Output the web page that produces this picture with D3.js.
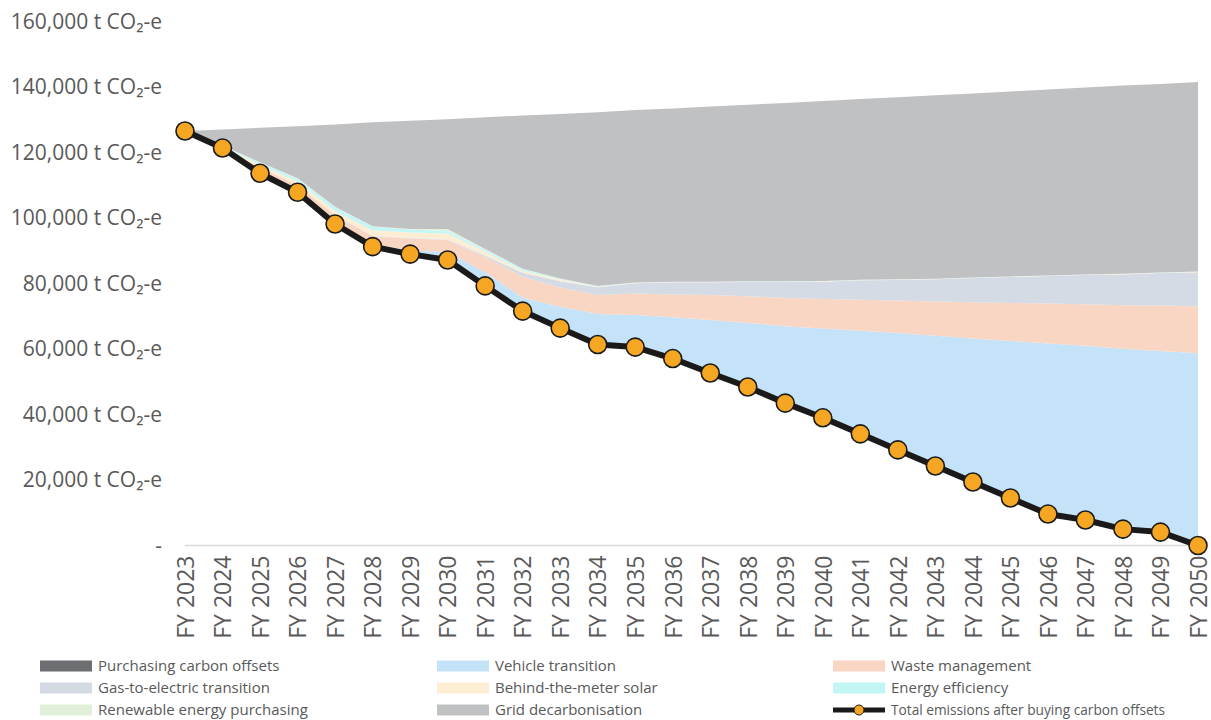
<!DOCTYPE html>
<html>
<head>
<meta charset="utf-8">
<script src="https://cdn.jsdelivr.net/npm/d3@7"></script>
<style>
  body { margin: 0; background: #ffffff; }
  svg { display: block; }
  text { font-family: "Open Sans", "DejaVu Sans", sans-serif; fill: #595959; }
</style>
</head>
<body>
<svg id="chart" width="1211" height="720"></svg>
<script>
// Financial years on the category axis
const years = ["FY 2023","FY 2024","FY 2025","FY 2026","FY 2027","FY 2028","FY 2029","FY 2030",
  "FY 2031","FY 2032","FY 2033","FY 2034","FY 2035","FY 2036","FY 2037","FY 2038","FY 2039",
  "FY 2040","FY 2041","FY 2042","FY 2043","FY 2044","FY 2045","FY 2046","FY 2047","FY 2048",
  "FY 2049","FY 2050"];

// Total emissions after buying carbon offsets (t CO2-e)
const totalAfterOffsets = [126600,121400,113700,107900,98200,91300,89000,87200,79300,71600,66400,
  61400,60600,57100,52700,48400,43500,39000,34100,29200,24300,19400,14500,9600,7800,5000,4100,0];

// Abatement wedges stacked above the remaining emissions (t CO2-e)
const carbonOffsets = [0,0,0,0,0,0,0,0,0,0,0,0,0,0,0,0,0,0,0,0,0,0,0,0,0,0,0,0];
const vehicleTransition = [0,0,0,0,0,700,1000,2500,4200,4100,6500,9300,9800,12600,16200,19600,
  23500,27300,31500,35700,39800,43800,48000,52100,53200,55100,55300,58700];
const wasteManagement = [0,150,1800,2200,2700,2500,3800,3600,4600,6400,5900,5800,6600,7000,7600,
  8100,8600,9000,9500,9900,10400,11100,11600,12200,12700,13300,13900,14400];
const gasToElectric = [0,0,0,0,0,100,100,200,500,1200,1900,2400,3100,3700,3900,4400,4900,5300,
  5900,6300,6800,7400,7900,8400,8900,9400,9900,10400];
const behindMeterSolar = [0,150,800,1100,1300,1700,1700,1800,1100,600,500,120,100,100,100,100,100,
  100,100,100,100,100,100,100,100,100,100,100];
const energyEfficiency = [0,250,600,800,1100,1100,900,800,600,450,200,150,60,60,60,60,60,60,60,
  60,60,60,60,60,60,60,60,60];
const renewablePurchasing = [0,150,200,200,200,150,150,600,300,200,120,100,40,40,40,40,40,40,40,
  40,40,40,40,40,40,40,40,40];
const gridDecarbonisation = [0,5000,10500,15900,25100,31700,33100,33500,40200,46800,50300,53100,
  52700,52900,53500,53900,54500,55000,55200,55600,56000,56200,56500,56800,57100,57500,57600,57900];

// Value axis ticks
const yTicks = [0,20000,40000,60000,80000,100000,120000,140000,160000];

// Series shown in the legend (3 columns x 3 rows)
const legendItems = [
  { key: "offsets",   label: "Purchasing carbon offsets",   color: "#6D6E71" },
  { key: "vehicle",   label: "Vehicle transition",          color: "#C5E3F8" },
  { key: "waste",     label: "Waste management",            color: "#F9D5C4" },
  { key: "gas",       label: "Gas-to-electric transition",  color: "#D4DBE5" },
  { key: "solar",     label: "Behind-the-meter solar",      color: "#FDEDD4" },
  { key: "ee",        label: "Energy efficiency",           color: "#C3F7F7" },
  { key: "renewable", label: "Renewable energy purchasing", color: "#E1F0D8" },
  { key: "grid",      label: "Grid decarbonisation",        color: "#C0C1C3" },
  { key: "total",     label: "Total emissions after buying carbon offsets", line: true }
];

const rows = years.map((yr, i) => ({
  year: yr,
  base: totalAfterOffsets[i],
  offsets: carbonOffsets[i],
  vehicle: vehicleTransition[i],
  waste: wasteManagement[i],
  gas: gasToElectric[i],
  solar: behindMeterSolar[i],
  ee: energyEfficiency[i],
  renewable: renewablePurchasing[i],
  grid: gridDecarbonisation[i]
}));

const colorOf = Object.fromEntries(legendItems.filter(d => d.color).map(d => [d.key, d.color]));
const stackKeys = ["base","offsets","vehicle","waste","gas","solar","ee","renewable","grid"];

const svg = d3.select("#chart");

const x = d3.scalePoint().domain(years).range([185, 1198]);
const y = d3.scaleLinear().domain([0, 160000]).range([545.5, 21.7]);

const series = d3.stack().keys(stackKeys)(rows);

const area = d3.area()
  .x(d => x(d.data.year))
  .y0(d => y(d[0]))
  .y1(d => y(d[1]));

// Stacked abatement areas (the remaining-emissions base stays unfilled)
svg.append("g")
  .selectAll("path")
  .data(series.filter(s => s.key !== "base"))
  .join("path")
  .attr("d", area)
  .attr("fill", s => colorOf[s.key]);

// Category axis
const xAxis = svg.append("g")
  .attr("transform", `translate(0,${y(0)})`)
  .call(d3.axisBottom(x).tickSize(0).tickPadding(0));
xAxis.select(".domain").attr("stroke", "#D9D9D9").attr("stroke-width", 1.5)
  .attr("d", `M${x(years[0])},0H${x(years[years.length - 1]) + 2}`);
xAxis.selectAll("text")
  .attr("transform", "rotate(-90)")
  .attr("text-anchor", "end")
  .attr("x", -10)
  .attr("y", 0)
  .attr("dy", "0.36em")
  .style("font-size", "23px")
  .style("fill", "#595959");

// Value axis labels
const yAxis = svg.append("g")
  .attr("transform", `translate(185,0)`)
  .call(d3.axisLeft(y).tickValues(yTicks).tickSize(0).tickPadding(23)
    .tickFormat(v => v === 0 ? "-" : d3.format(",")(v) + " t CO\u2082-e"));
yAxis.select(".domain").remove();
yAxis.selectAll("text")
  .style("font-size", "21px")
  .style("fill", "#595959");

// Total emissions line with markers
const line = d3.line()
  .x(d => x(d.year))
  .y(d => y(d.base));

svg.append("path")
  .datum(rows)
  .attr("d", line)
  .attr("fill", "none")
  .attr("stroke", "#1A1A1A")
  .attr("stroke-width", 6)
  .attr("stroke-linejoin", "round");

svg.append("g")
  .selectAll("circle")
  .data(rows)
  .join("circle")
  .attr("cx", d => x(d.year))
  .attr("cy", d => y(d.base))
  .attr("r", 9)
  .attr("fill", "#F5A623")
  .attr("stroke", "#1A1A1A")
  .attr("stroke-width", 1.6);

// Legend
const colX = [40, 437, 833];
const rowY = [666, 688, 710];
const legend = svg.append("g");
legendItems.forEach((item, i) => {
  const lx = colX[i % 3], ly = rowY[Math.floor(i / 3)];
  const g = legend.append("g").attr("transform", `translate(${lx},${ly})`);
  if (item.line) {
    g.append("line").attr("x1", 0).attr("x2", 52).attr("y1", 0).attr("y2", 0)
      .attr("stroke", "#1A1A1A").attr("stroke-width", 5);
    g.append("circle").attr("cx", 26).attr("cy", 0).attr("r", 5)
      .attr("fill", "#F5A623").attr("stroke", "#1A1A1A").attr("stroke-width", 1);
  } else {
    g.append("rect").attr("x", 0).attr("y", -5.5).attr("width", 52).attr("height", 11)
      .attr("fill", item.color);
  }
  const t = g.append("text")
    .attr("x", 58)
    .attr("y", 0)
    .attr("dy", "0.35em")
    .style("font-size", "15px")
    .text(item.label);
  if (item.line) t.attr("textLength", 274).attr("lengthAdjust", "spacingAndGlyphs");
});
</script>
</body>
</html>
